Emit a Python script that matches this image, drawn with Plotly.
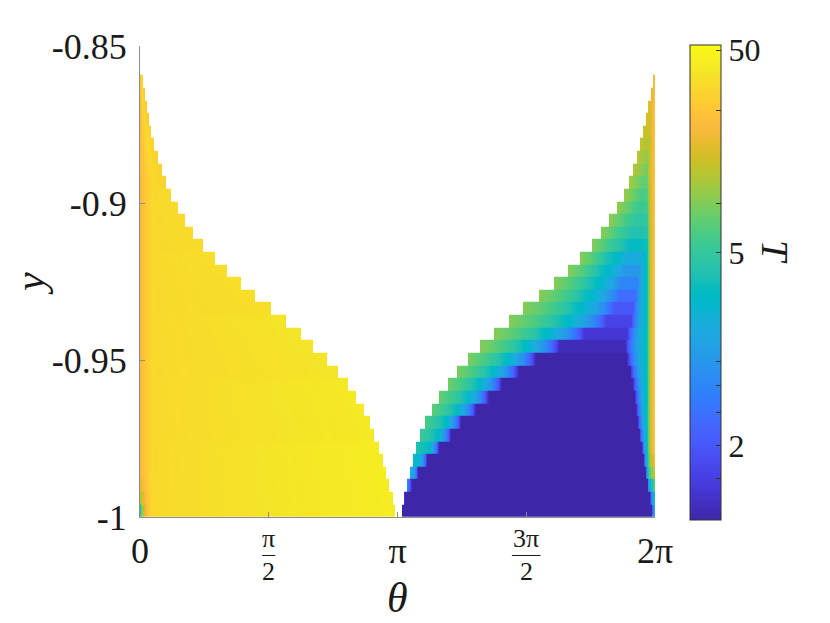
import numpy as np
import plotly.graph_objects as go

# ---------------- data ----------------
# row centres in y (35 rows, each ~0.00402 tall)
y_rows = [-0.9980, -0.9940, -0.9899, -0.9859, -0.9819, -0.9779, -0.9739, -0.9698, -0.9658,
          -0.9618, -0.9578, -0.9537, -0.9497, -0.9457, -0.9417, -0.9377, -0.9336, -0.9296,
          -0.9256, -0.9216, -0.9176, -0.9135, -0.9095, -0.9055, -0.9015, -0.8974, -0.8934,
          -0.8894, -0.8854, -0.8814, -0.8773, -0.8733, -0.8693, -0.8653, -0.8612]

# left region (theta from 0 to left_end), T values
left_end = [3.102, 3.078, 3.035, 2.999, 2.953, 2.910, 2.852, 2.795, 2.722, 2.633, 2.527, 2.417,
            2.276, 2.112, 1.956, 1.774, 1.600, 1.402, 1.231, 1.060, 0.911, 0.772, 0.650, 0.549,
            0.463, 0.382, 0.313, 0.265, 0.216, 0.174, 0.138, 0.110, 0.082, 0.057, 0.033]
left_T_start = [3.5, 8.0, 12.6, 14.5] + [15.5] * 31
left_T_body = 28.0
left_T_end = [40] * 6 + [37] * 5 + [34] * 5 + [31] * 5 + [29] * 5 + [25] * 5 + [22] * 4

# right region (theta from right_start to 2*pi), T values at anchor angles
right_start = [3.197, 3.230, 3.263, 3.300, 3.331, 3.373, 3.425, 3.486, 3.563, 3.657, 3.758, 3.872,
               4.002, 4.156, 4.327, 4.501, 4.681, 4.876, 5.050, 5.221, 5.375, 5.510, 5.631, 5.729,
               5.818, 5.900, 5.964, 6.021, 6.067, 6.103, 6.140, 6.168, 6.196, 6.229, 6.257]
right_floor_at = [3.230, 3.267, 3.328, 3.401, 3.510, 3.657, 3.803, 3.925, 4.108, 4.266, 4.425, 4.632,
                  4.839, 5.119, 5.424, 5.693, 5.790, 5.851, 5.875, 5.912, 5.948, 5.973, 6.009, 6.046,
                  6.082, 6.107, 6.131, 6.155, 6.180, 6.192, 6.216, 6.229, 6.241, 6.253, 6.265]
right_rise_at = [6.241, 6.223, 6.198, 6.174, 6.149, 6.125, 6.094, 6.070, 6.052, 6.034, 6.009, 5.979,
                 5.936, 5.924, 5.948, 5.997, 6.021, 6.046, 6.070, 6.094, 6.107, 6.119, 6.131, 6.143,
                 6.155, 6.168, 6.180, 6.192, 6.204, 6.216, 6.216, 6.229, 6.241, 6.253, 6.265]
right_mid_frac = 0.55   # where the cyan shoulder sits between right_start and right_floor_at
right_cyan_at = 6.192
right_T_edge = [1.69, 1.75, 2.54, 3.3, 3.9, 4.4, 5.3, 5.7, 6.4, 6.6, 6.9, 7.2, 7.2, 7.5, 7.5, 7.5,
                7.5, 7.5, 7.5, 7.5, 7.5, 7.5, 7.5, 7.8, 8.1, 8.5, 8.9, 9.5, 10.0, 10.8, 11.5, 12.6,
                13.2, 14.0, 14.8]
right_T_mid = [1.6, 1.6, 2.0, 2.8, 3.3] + [3.9] * 10 + [4.0, 4.1, 4.1, 4.2, 4.2, 4.3, 5.0, 5.4, 5.8,
                                                       6.3, 6.8, 7.4, 8.2, 8.9, 9.9, 10.8, 11.9,
                                                       12.9, 14.0, 14.8]
right_T_floor = [1.6] * 13 + [1.69, 1.77, 1.85, 2.0, 2.2, 2.45, 2.75, 3.2, 3.9, 4.4, 4.8, 5.3,
                              5.7, 6.4, 7.2, 8.1, 9.3, 10.2, 11.3, 12.6, 14.0, 14.8]
right_T_cyan = [1.6, 1.6, 2.2, 3.5] + [4.1] * 18 + [4.6, 5.0, 5.5, 6.0, 6.7, 7.5, 8.5, 9.7, 10.8,
                                                   12.0, 13.2, 14.5, 15.5]
right_T_end = [3.15, 4.1, 6.1, 10.8, 15.7] + [19.9] * 30

x_tick_vals = [0, np.pi / 2, np.pi, 3 * np.pi / 2, 2 * np.pi]
x_tick_text = ["0", "", "π", "", "2π"]
y_tick_vals = [-1, -0.95, -0.9, -0.85]
y_tick_text = ["-1", "-0.95", "-0.9", "-0.85"]
cbar_labels = [50, 5, 2]
cbar_minor_lnT = [0.6, 0.8, 0.9, 1.0, 2.0, 3.0]

parula = [
    [0.2422, 0.1504, 0.6603], [0.2504, 0.1650, 0.7076], [0.2578, 0.1818, 0.7511], [0.2647, 0.1978, 0.7952],
    [0.2706, 0.2147, 0.8364], [0.2751, 0.2342, 0.8710], [0.2783, 0.2559, 0.8991], [0.2803, 0.2782, 0.9221],
    [0.2813, 0.3006, 0.9414], [0.2810, 0.3228, 0.9579], [0.2795, 0.3447, 0.9717], [0.2760, 0.3667, 0.9829],
    [0.2699, 0.3892, 0.9906], [0.2602, 0.4123, 0.9952], [0.2440, 0.4358, 0.9988], [0.2206, 0.4603, 0.9973],
    [0.1963, 0.4847, 0.9892], [0.1834, 0.5074, 0.9798], [0.1786, 0.5289, 0.9682], [0.1764, 0.5499, 0.9520],
    [0.1687, 0.5703, 0.9359], [0.1540, 0.5902, 0.9218], [0.1460, 0.6091, 0.9079], [0.1380, 0.6276, 0.8973],
    [0.1248, 0.6459, 0.8883], [0.1113, 0.6635, 0.8763], [0.0952, 0.6798, 0.8598], [0.0689, 0.6948, 0.8394],
    [0.0297, 0.7082, 0.8163], [0.0036, 0.7203, 0.7917], [0.0067, 0.7312, 0.7660], [0.0433, 0.7411, 0.7394],
    [0.0964, 0.7500, 0.7120], [0.1408, 0.7584, 0.6842], [0.1717, 0.7670, 0.6554], [0.1938, 0.7758, 0.6251],
    [0.2161, 0.7843, 0.5923], [0.2470, 0.7918, 0.5567], [0.2906, 0.7973, 0.5188], [0.3406, 0.8008, 0.4789],
    [0.3909, 0.8029, 0.4354], [0.4456, 0.8024, 0.3909], [0.5044, 0.7993, 0.3480], [0.5616, 0.7942, 0.3045],
    [0.6174, 0.7876, 0.2612], [0.6720, 0.7793, 0.2227], [0.7242, 0.7698, 0.1910], [0.7738, 0.7598, 0.1646],
    [0.8203, 0.7498, 0.1535], [0.8634, 0.7406, 0.1596], [0.9035, 0.7330, 0.1774], [0.9393, 0.7288, 0.2100],
    [0.9728, 0.7298, 0.2394], [0.9956, 0.7434, 0.2371], [0.9970, 0.7659, 0.2199], [0.9952, 0.7893, 0.2028],
    [0.9892, 0.8136, 0.1885], [0.9786, 0.8386, 0.1766], [0.9676, 0.8639, 0.1643], [0.9610, 0.8890, 0.1537],
    [0.9597, 0.9135, 0.1423], [0.9628, 0.9373, 0.1265], [0.9691, 0.9606, 0.1064], [0.9769, 0.9839, 0.0805]]
colorscale = [[i / 63, "rgb(%d,%d,%d)" % tuple(round(v * 255) for v in c)] for i, c in enumerate(parula)]

# ---------------- build the grid ----------------
N = 516
theta = (np.arange(N) + 0.5) * 2 * np.pi / N
T = np.full((len(y_rows), N), np.nan)
for k in range(len(y_rows)):
    le = left_end[k]
    xb = min(0.15, le / 2)
    mL = theta <= le
    T[k, mL] = np.interp(theta[mL], [0, xb, le], [left_T_start[k], left_T_body, left_T_end[k]])
    rs, rf = right_start[k], right_floor_at[k]
    xs = np.maximum.accumulate([rs, rs + right_mid_frac * (rf - rs), rf, right_rise_at[k],
                                max(right_cyan_at, right_rise_at[k]), 2 * np.pi])
    ts = [right_T_edge[k], right_T_mid[k], right_T_floor[k], right_T_floor[k],
          right_T_cyan[k], right_T_end[k]]
    mR = theta >= rs
    T[k, mR] = np.interp(theta[mR], xs, ts)

Z = np.log10(np.log(T))  # colour axis: logarithmic in ln(T)
zmin, zmax = np.log10(0.5), np.log10(4.0)

cb_vals = [float(np.log10(np.log(v))) for v in cbar_labels] + [float(np.log10(v)) for v in cbar_minor_lnT]
cb_text = [str(v) for v in cbar_labels] + [""] * len(cbar_minor_lnT)

FONT = "Liberation Serif"
TXT = "#1a1a1a"
AX = "#8c8c8c"

fig = go.Figure()
fig.add_trace(go.Heatmap(
    x=theta, y=y_rows, z=Z, zmin=zmin, zmax=zmax, colorscale=colorscale,
    hoverinfo="skip",
    colorbar=dict(
        x=1.068, xanchor="left", y=0.498, yanchor="middle",
        len=475, lenmode="pixels", thickness=31, xpad=0, ypad=0,
        outlinewidth=1, outlinecolor="#333333",
        tickvals=cb_vals, ticktext=cb_text, ticks="inside", ticklen=5,
        tickcolor="#333333", tickfont=dict(family=FONT, size=32, color=TXT),
    ),
))

# the page body adds an 8px offset, so the figure is 8px smaller and margins compensate
fig.update_layout(
    width=822, height=615,
    margin=dict(l=132, r=175, t=38, b=106),
    paper_bgcolor="white", plot_bgcolor="white",
    showlegend=False,
    xaxis=dict(range=[0, 2 * np.pi], tickvals=x_tick_vals, ticktext=x_tick_text,
               showgrid=False, zeroline=False, showline=True, linecolor=AX, linewidth=1,
               ticks="inside", ticklen=5, tickcolor=AX, ticklabelstandoff=2,
               tickfont=dict(family=FONT, size=36, color=TXT)),
    yaxis=dict(range=[-1, -0.85], tickvals=y_tick_vals, ticktext=y_tick_text,
               showgrid=False, zeroline=False, showline=True, linecolor=AX, linewidth=1,
               ticks="inside", ticklen=5, tickcolor=AX, ticklabelstandoff=5,
               tickfont=dict(family=FONT, size=36, color=TXT)),
)

ann = []
BAR_Y = -0.0817
# stacked fraction tick labels
for xv, num, half in [(np.pi / 2, "π", 0.08), (3 * np.pi / 2, "3π", 0.175)]:
    ann.append(dict(x=xv, y=BAR_Y, xref="x", yref="paper", text=num, showarrow=False,
                    xanchor="center", yanchor="bottom", yshift=1, borderpad=0,
                    font=dict(family=FONT, size=26, color=TXT)))
    ann.append(dict(x=xv, y=BAR_Y, xref="x", yref="paper", text="2", showarrow=False,
                    xanchor="center", yanchor="top", yshift=-1, borderpad=0,
                    font=dict(family=FONT, size=26, color=TXT)))
    fig.add_shape(type="line", xref="x", yref="paper", x0=xv - half, x1=xv + half,
                  y0=BAR_Y, y1=BAR_Y, line=dict(color=TXT, width=1))
# axis titles
ann.append(dict(x=np.pi, y=-0.172, xref="x", yref="paper", text="<i>θ</i>", showarrow=False,
                xanchor="center", yanchor="middle", borderpad=0,
                font=dict(family=FONT, size=42, color=TXT)))
ann.append(dict(x=-0.2136, y=0.497, xref="paper", yref="paper", text="<i>y</i>", showarrow=False,
                xanchor="center", yanchor="middle", textangle=-90,
                font=dict(family=FONT, size=42, color=TXT)))
ann.append(dict(x=1.233, y=0.5626, xref="paper", yref="paper", text="<i>T</i>", showarrow=False,
                xanchor="center", yanchor="middle", textangle=90,
                font=dict(family=FONT, size=38, color=TXT)))
fig.update_layout(annotations=ann)

fig.write_html("out.html")
